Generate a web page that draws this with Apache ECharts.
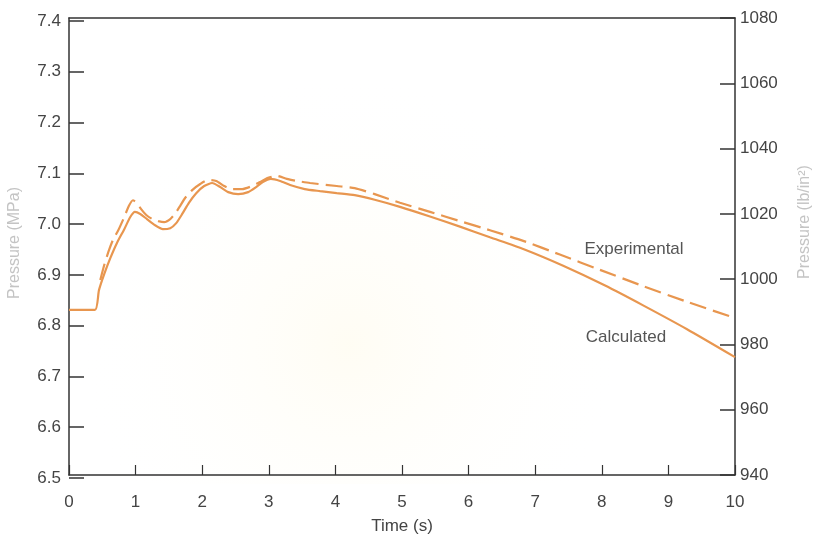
<!DOCTYPE html>
<html>
<head>
<meta charset="utf-8">
<script src="https://cdn.jsdelivr.net/npm/echarts@6/dist/echarts.min.js"></script>
<style>
  html, body { margin: 0; padding: 0; background: #fff; }
  #chart { width: 818px; height: 540px; }
</style>
</head>
<body>
<div id="chart"></div>
<script>
// axis ticks
const timeTicks = [0, 1, 2, 3, 4, 5, 6, 7, 8, 9, 10];
const mpaTicks = [6.5, 6.6, 6.7, 6.8, 6.9, 7.0, 7.1, 7.2, 7.3, 7.4];
const psiTicks = [940, 960, 980, 1000, 1020, 1040, 1060, 1080];

// calculated pressure (MPa) vs time (s)
const calcTime = [0, 0.39, 0.45, 0.53, 0.62, 0.72, 0.83, 0.92, 0.99, 1.07, 1.17, 1.29, 1.41, 1.52, 1.61,
  1.70, 1.80, 1.91, 2.03, 2.15, 2.27, 2.39, 2.54, 2.69, 2.81, 2.91, 3.03, 3.17, 3.32, 3.54, 3.77,
  4.02, 4.29, 4.59, 4.97, 5.42, 5.87, 6.32, 6.82, 7.42, 8.05, 8.62, 9.28, 10];
const calcMPa = [6.831, 6.831, 6.870, 6.902, 6.933, 6.963, 6.990, 7.014, 7.024, 7.020, 7.010, 6.998, 6.990, 6.992, 7.002,
  7.020, 7.042, 7.061, 7.075, 7.081, 7.073, 7.063, 7.059, 7.063, 7.073, 7.083, 7.089, 7.085, 7.077, 7.069, 7.065,
  7.061, 7.057, 7.048, 7.034, 7.015, 6.995, 6.974, 6.951, 6.918, 6.879, 6.840, 6.793, 6.738];

// experimental pressure (MPa) vs time (s)
const expTime = [0.47, 0.53, 0.59, 0.66, 0.74, 0.83, 0.90, 0.96, 1.02, 1.08, 1.16, 1.25, 1.34, 1.43, 1.52,
  1.59, 1.67, 1.74, 1.85, 1.97, 2.09, 2.21, 2.33, 2.45, 2.60, 2.75, 2.87, 2.99, 3.12, 3.27, 3.42, 3.62,
  4.02, 4.29, 4.59, 4.97, 5.42, 5.87, 6.32, 6.82, 7.37, 7.97, 8.62, 9.28, 10];
const expMPa = [6.890, 6.920, 6.945, 6.969, 6.988, 7.014, 7.036, 7.047, 7.042, 7.030, 7.018, 7.010, 7.006, 7.004, 7.010,
  7.020, 7.036, 7.051, 7.067, 7.079, 7.087, 7.085, 7.075, 7.069, 7.069, 7.075, 7.083, 7.091, 7.095, 7.089, 7.085, 7.081,
  7.075, 7.071, 7.059, 7.042, 7.024, 7.006, 6.988, 6.967, 6.940, 6.910, 6.878, 6.847, 6.815];

const ink = '#333';
const orange = '#E8964F';
const font = 'Liberation Sans';

const chart = echarts.init(document.getElementById('chart'));

chart.setOption({
  backgroundColor: '#fff',
  animation: false,
  grid: [
    {left: 69, right: 83, top: 21, bottom: 62},  // data, MPa scale
    {left: 69, right: 83, top: 18, bottom: 55}   // frame, psi scale
  ],
  xAxis: [
    {gridIndex: 0, type: 'value', min: timeTicks[0], max: timeTicks[timeTicks.length - 1], show: false},
    {
      gridIndex: 1, type: 'value', position: 'bottom',
      min: timeTicks[0], max: timeTicks[timeTicks.length - 1], interval: 1,
      axisLine: {onZero: false, lineStyle: {color: ink, width: 1.5}},
      axisTick: {inside: true, length: 10, lineStyle: {color: ink, width: 1.2}},
      axisLabel: {color: '#444', fontSize: 17, fontFamily: font, margin: 19},
      splitLine: {show: false},
      name: 'Time (s)', nameLocation: 'middle', nameGap: 43,
      nameTextStyle: {color: '#444', fontSize: 17, fontFamily: font}
    },
    {
      gridIndex: 1, type: 'value', position: 'top', min: 0, max: 10,
      axisLine: {onZero: false, lineStyle: {color: ink, width: 1.5}},
      axisTick: {show: false}, axisLabel: {show: false}, splitLine: {show: false}
    }
  ],
  yAxis: [
    {
      gridIndex: 0, type: 'value', position: 'left',
      min: mpaTicks[0], max: mpaTicks[mpaTicks.length - 1], interval: 0.1,
      axisLine: {show: false},
      axisTick: {show: true, inside: true, length: 15, lineStyle: {color: ink, width: 1.5}},
      axisLabel: {color: '#444', fontSize: 17, fontFamily: font, margin: 8, formatter: v => v.toFixed(1)},
      splitLine: {show: false}
    },
    {
      gridIndex: 1, type: 'value', position: 'right',
      min: psiTicks[0], max: psiTicks[psiTicks.length - 1], interval: 20,
      axisLine: {show: true, onZero: false, lineStyle: {color: ink, width: 1.5}},
      axisTick: {show: true, inside: true, length: 15, lineStyle: {color: ink, width: 1.5}},
      axisLabel: {color: '#444', fontSize: 17, fontFamily: font, margin: 5, formatter: v => String(v)},
      splitLine: {show: false}
    },
    {
      gridIndex: 1, type: 'value', position: 'left',
      min: psiTicks[0], max: psiTicks[psiTicks.length - 1],
      axisLine: {show: true, onZero: false, lineStyle: {color: ink, width: 1.5}},
      axisTick: {show: false}, axisLabel: {show: false}, splitLine: {show: false}
    }
  ],
  graphic: [
    {
      type: 'rect', silent: true, z: -100,
      shape: {x: 70, y: 19, width: 664, height: 465},
      style: {
        fill: {
          type: 'radial', x: 0.42, y: 0.7, r: 0.6,
          colorStops: [{offset: 0, color: 'rgba(255,248,222,0.35)'}, {offset: 1, color: 'rgba(255,255,255,0)'}]
        }
      }
    },
    {
      type: 'text', x: 15, y: 243, rotation: Math.PI / 2, silent: true,
      style: {text: 'Pressure (MPa)', align: 'center', verticalAlign: 'middle', fill: '#c4c4c4', font: '16px ' + font}
    },
    {
      type: 'text', x: 805, y: 222, rotation: Math.PI / 2, silent: true,
      style: {text: 'Pressure (lb/in²)', align: 'center', verticalAlign: 'middle', fill: '#c4c4c4', font: '16px ' + font}
    },
    {
      type: 'text', x: 634, y: 249, silent: true,
      style: {text: 'Experimental', align: 'center', verticalAlign: 'middle', fill: '#555', font: '17px ' + font}
    },
    {
      type: 'text', x: 626, y: 337, silent: true,
      style: {text: 'Calculated', align: 'center', verticalAlign: 'middle', fill: '#555', font: '17px ' + font}
    }
  ],
  series: [
    {
      name: 'Calculated', type: 'line', xAxisIndex: 0, yAxisIndex: 0,
      data: calcTime.map((t, i) => [t, calcMPa[i]]),
      smooth: 0.2, showSymbol: false,
      lineStyle: {color: orange, width: 2.2}
    },
    {
      name: 'Experimental', type: 'line', xAxisIndex: 0, yAxisIndex: 0,
      data: expTime.map((t, i) => [t, expMPa[i]]),
      smooth: 0.2, showSymbol: false,
      lineStyle: {color: orange, width: 2.2, type: [17, 7]}
    }
  ]
});
</script>
</body>
</html>
